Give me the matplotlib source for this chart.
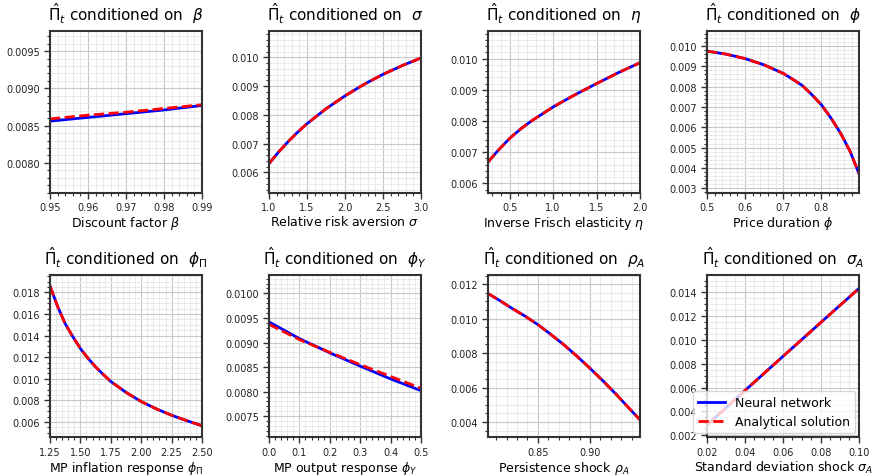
import numpy as np
import matplotlib
matplotlib.use("Agg")
import matplotlib.pyplot as plt

# conditioned parameter grids and inflation responses (NN vs closed form)
beta = [0.95, 0.96, 0.97, 0.98, 0.99]
beta_nn = [0.00856, 0.00861, 0.00866, 0.00871, 0.00877]
beta_an = [0.00859, 0.00864, 0.00868, 0.00873, 0.00878]

sigma = [1.0, 1.125, 1.25, 1.375, 1.5, 1.75, 2.0, 2.25, 2.5, 2.75, 3.0]
sigma_nn = [0.00630, 0.00670, 0.00706, 0.00739, 0.00769, 0.00821, 0.00866,
            0.00906, 0.00941, 0.00971, 0.00998]
sigma_an = [0.00630, 0.00670, 0.00706, 0.00739, 0.00769, 0.00821, 0.00866,
            0.00906, 0.00941, 0.00971, 0.00998]

eta = [0.25, 0.375, 0.5, 0.625, 0.75, 1.0, 1.25, 1.5, 1.75, 2.0]
eta_nn = [0.00668, 0.00708, 0.00744, 0.00774, 0.00800, 0.00845, 0.00884,
          0.00920, 0.00955, 0.00987]
eta_an = [0.00668, 0.00708, 0.00744, 0.00774, 0.00800, 0.00845, 0.00884,
          0.00920, 0.00955, 0.00987]

phi = [0.5, 0.55, 0.6, 0.65, 0.7, 0.725, 0.75, 0.775, 0.8, 0.825, 0.85, 0.875, 0.898]
phi_nn = [0.00975, 0.00960, 0.00938, 0.00907, 0.00865, 0.00836, 0.00805, 0.00760,
          0.00710, 0.00645, 0.00571, 0.00481, 0.00372]
phi_an = [0.00975, 0.00960, 0.00938, 0.00907, 0.00865, 0.00836, 0.00805, 0.00760,
          0.00710, 0.00645, 0.00571, 0.00481, 0.00372]

phi_pi = [1.25, 1.3125, 1.375, 1.4375, 1.5, 1.5625, 1.625, 1.6875, 1.75,
          1.875, 2.0, 2.125, 2.25, 2.375, 2.5]
phi_pi_nn = [0.0186, 0.0167, 0.0151, 0.0139, 0.0128, 0.0119, 0.0111, 0.0104, 0.00975,
             0.00874, 0.00789, 0.00721, 0.00662, 0.00612, 0.00565]
phi_pi_an = [0.0186, 0.0167, 0.0151, 0.0139, 0.0128, 0.0119, 0.0111, 0.0104, 0.00975,
             0.00874, 0.00789, 0.00721, 0.00662, 0.00612, 0.00565]

phi_y = [0.0, 0.1, 0.2, 0.3, 0.4, 0.5]
phi_y_nn = [0.00942, 0.00908, 0.00879, 0.00852, 0.00826, 0.00802]
phi_y_an = [0.00937, 0.00906, 0.00880, 0.00855, 0.00831, 0.00807]

rho_a = [0.802, 0.8125, 0.825, 0.8375, 0.85, 0.8625, 0.875, 0.8875, 0.90,
         0.9125, 0.925, 0.9365, 0.948]
rho_a_nn = [0.01146, 0.01108, 0.01060, 0.01015, 0.00965, 0.00908, 0.00848, 0.00782,
            0.00712, 0.00639, 0.00562, 0.00487, 0.00413]
rho_a_an = [0.01146, 0.01108, 0.01060, 0.01015, 0.00965, 0.00908, 0.00848, 0.00782,
            0.00712, 0.00639, 0.00562, 0.00487, 0.00413]

sigma_a = [0.02, 0.04, 0.06, 0.08, 0.10]
sigma_a_nn = [0.00285, 0.00575, 0.00862, 0.01148, 0.01433]
sigma_a_an = [0.00285, 0.00575, 0.00862, 0.01148, 0.01433]

panels = [
    (beta, beta_nn, beta_an, r"\beta", r"Discount factor $\beta$", (0.00760, 0.00977)),
    (sigma, sigma_nn, sigma_an, r"\sigma", r"Relative risk aversion $\sigma$", (0.00529, 0.01092)),
    (eta, eta_nn, eta_an, r"\eta", r"Inverse Frisch elasticity $\eta$", (0.00570, 0.01089)),
    (phi, phi_nn, phi_an, r"\phi", r"Price duration $\phi$", (0.00278, 0.01074)),
    (phi_pi, phi_pi_nn, phi_pi_an, r"\phi_\Pi", r"MP inflation response $\phi_\Pi$", (0.00462, 0.01959)),
    (phi_y, phi_y_nn, phi_y_an, r"\phi_Y", r"MP output response $\phi_Y$", (0.00708, 0.01037)),
    (rho_a, rho_a_nn, rho_a_an, r"\rho_A", r"Persistence shock $\rho_A$", (0.00314, 0.01252)),
    (sigma_a, sigma_a_nn, sigma_a_an, r"\sigma_A", r"Standard deviation shock $\sigma_A$", (0.00186, 0.01545)),
]

fig, axes = plt.subplots(2, 4, figsize=(8.72, 4.77), dpi=100)
fig.subplots_adjust(left=0.0573, right=0.985, top=0.933, bottom=0.082,
                    wspace=0.44, hspace=0.51)

for ax, (x, nn, an, sym, xlab, ylim) in zip(axes.flat, panels):
    ax.plot(x, nn, color="blue", lw=2, label="Neural network")
    ax.plot(x, an, color="red", ls="--", lw=2, label="Analytical solution")
    ax.set_xlim(x[0], x[-1])
    ax.set_ylim(*ylim)
    ax.set_title(r"$\hat{\Pi}_t$ conditioned on  $" + sym + "$", fontsize=11, pad=8)
    ax.set_xlabel(xlab, fontsize=9, labelpad=1.5)
    ax.minorticks_on()
    ax.grid(which="major", color="#c8c8c8", lw=0.8)
    ax.grid(which="minor", color="#e6e6e6", lw=0.6)
    ax.tick_params(which="both", labelsize=7, color="#333333", labelcolor="#222222")
    ax.tick_params(which="major", length=4, width=1, pad=3)
    ax.tick_params(which="minor", length=2, width=0.8)
    for s in ax.spines.values():
        s.set_linewidth(1.5)
        s.set_color("#333333")

axes[1, 3].legend(loc="lower right", fontsize=9, framealpha=0.8,
                  borderaxespad=0.3, handlelength=2.2)

fig.savefig("out.png", dpi=100)
